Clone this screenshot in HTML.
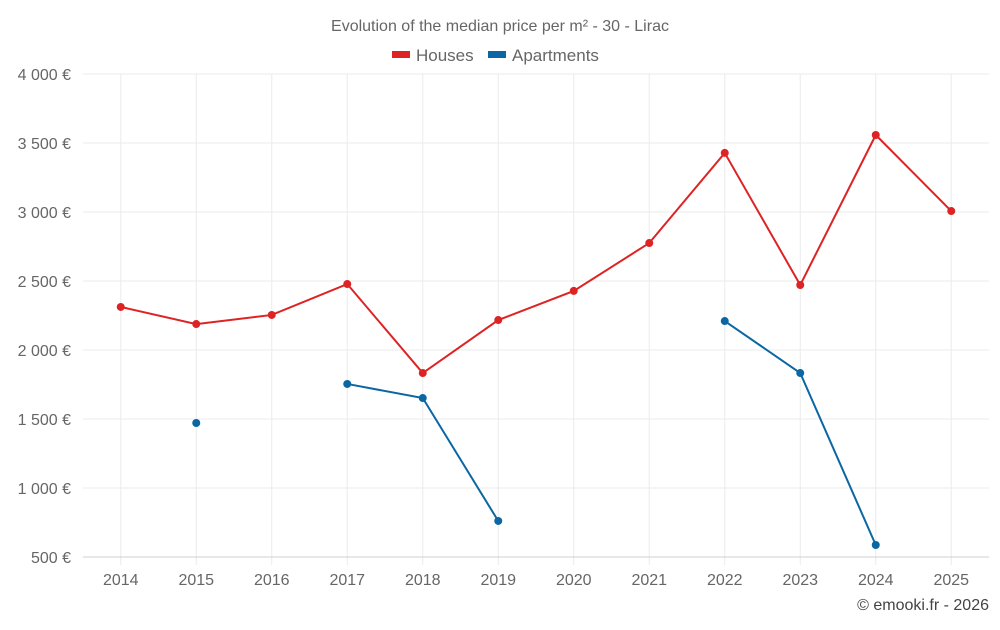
<!DOCTYPE html>
<html><head><meta charset="utf-8"><style>
body{margin:0;background:#fff;font-family:"Liberation Sans",sans-serif}
svg text{font-family:"Liberation Sans",sans-serif;fill:#666}
</style></head><body>
<svg id="chart" width="1000" height="625" xmlns="http://www.w3.org/2000/svg">
<text x="500" y="31" text-anchor="middle" font-size="16">Evolution of the median price per m² - 30 - Lirac</text>
<g>
<g><rect x="392" y="51" width="18" height="7" fill="#dd2323"/><text x="416" y="61" font-size="17">Houses</text></g>
<g><rect x="488" y="51" width="18" height="7" fill="#0a67a3"/><text x="512" y="61" font-size="17">Apartments</text></g>
</g>
<g id="grid"></g><g id="axes"></g><g id="series"></g>
<text x="989" y="610" text-anchor="end" font-size="16" style="fill:#444">© emooki.fr - 2026</text>
</svg>
<script>
const years=["2014","2015","2016","2017","2018","2019","2020","2021","2022","2023","2024","2025"];
const houses=[2312,2188,2254,2478,1833,2217,2428,2775,3428,2471,3558,3007];
const apartments=[null,1471,null,1754,1652,761,null,null,2210,1833,587,null];
const yTicks=[500,1000,1500,2000,2500,3000,3500,4000];
const yTickLabels=["500 €","1 000 €","1 500 €","2 000 €","2 500 €","3 000 €","3 500 €","4 000 €"];
const L=83,R=989,T=74,B=557,yMin=500,yMax=4000;
const bw=(R-L)/years.length;
const x=i=>L+bw*(i+0.5);
const y=v=>B-(v-yMin)/(yMax-yMin)*(B-T);
const NS="http://www.w3.org/2000/svg";
function mk(tag,attrs,parent){const e=document.createElementNS(NS,tag);for(const k in attrs)e.setAttribute(k,attrs[k]);parent.appendChild(e);return e;}
const grid=document.getElementById('grid'),axes=document.getElementById('axes'),ser=document.getElementById('series');
yTicks.forEach((t,i)=>{
 const l=mk('line',{x1:L,x2:R,y1:y(t),y2:y(t),stroke:'#ebebeb','stroke-width':1},grid);
 
 
 const tx=mk('text',{x:71,y:y(t)+6,'text-anchor':'end','font-size':16},axes);
 tx.textContent=yTickLabels[i];
 
 
});
years.forEach((yr,i)=>{
 const l=mk('line',{x1:x(i),x2:x(i),y1:T,y2:B+8,stroke:'#ebebeb','stroke-width':1},grid);
 
 
 const tx=mk('text',{x:x(i),y:585,'text-anchor':'middle','font-size':16},axes);
 tx.textContent=yr;
 
 
});
const ax=mk('line',{x1:L,x2:R,y1:B,y2:B,stroke:'#d0d0d0'},axes);


function draw(vals,color,name){
 let segs=[],cur=[];
 vals.forEach((v,i)=>{if(v==null){if(cur.length)segs.push(cur);cur=[];}else cur.push([x(i),y(v)]);});
 if(cur.length)segs.push(cur);
 segs.forEach(s=>{if(s.length>1){
  const p=mk('polyline',{points:s.map(q=>q.join(',')).join(' '),fill:'none',stroke:color,'stroke-width':2},ser);
  
  
 }});
 vals.forEach((v,i)=>{if(v==null)return;
  const c=mk('circle',{cx:x(i),cy:y(v),r:4,fill:color},ser);
  
  
 });
}
draw(houses,'#dd2323','houses');
draw(apartments,'#0a67a3','apartments');
</script>
</body></html>
